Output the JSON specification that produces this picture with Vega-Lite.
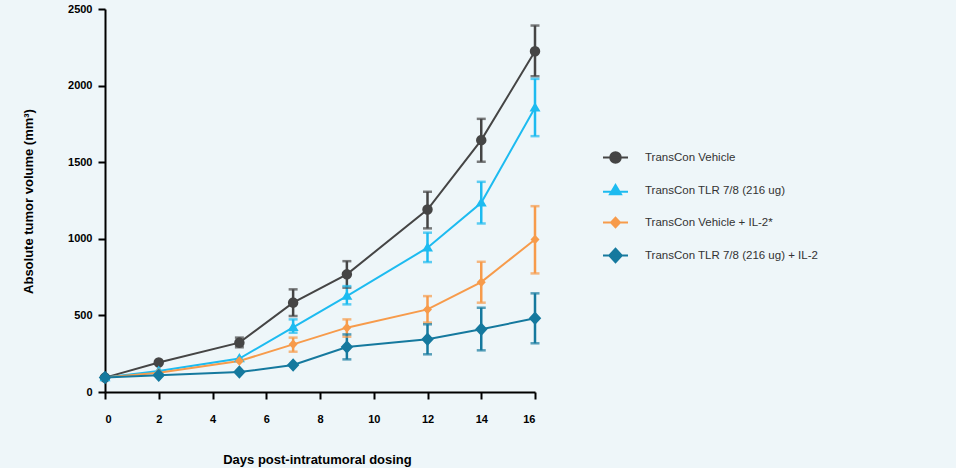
{
  "$schema": "https://vega.github.io/schema/vega-lite/v6.json",
  "width": 430,
  "height": 383,
  "autosize": {"type": "none"},
  "padding": {"left": 105, "top": 9, "right": 421, "bottom": 76},
  "background": "#eef6f9",
  "config": {
    "view": {"stroke": null},
    "axis": {
      "domainColor": "#000000",
      "domainWidth": 2,
      "tickColor": "#000000",
      "tickWidth": 2,
      "tickSize": 7,
      "grid": false,
      "labelFont": "Liberation Sans",
      "labelFontWeight": "bold",
      "labelFontSize": 11,
      "labelColor": "#000000",
      "titleFont": "Liberation Sans",
      "titleFontWeight": "bold",
      "titleFontSize": 13,
      "titleColor": "#000000"
    }
  },
  "data": {
    "values": [
      {"day": 0, "group": "TransCon Vehicle", "value": 94},
      {"day": 2, "group": "TransCon Vehicle", "value": 192},
      {"day": 5, "group": "TransCon Vehicle", "value": 322, "lo": 292, "hi": 355},
      {"day": 7, "group": "TransCon Vehicle", "value": 583, "lo": 496, "hi": 670},
      {"day": 9, "group": "TransCon Vehicle", "value": 768, "lo": 681, "hi": 854},
      {"day": 12, "group": "TransCon Vehicle", "value": 1191, "lo": 1068, "hi": 1307},
      {"day": 14, "group": "TransCon Vehicle", "value": 1644, "lo": 1503, "hi": 1783},
      {"day": 16, "group": "TransCon Vehicle", "value": 2224, "lo": 2061, "hi": 2392},
      {"day": 0, "group": "TransCon TLR 7/8 (216 ug)", "value": 94},
      {"day": 2, "group": "TransCon TLR 7/8 (216 ug)", "value": 137},
      {"day": 5, "group": "TransCon TLR 7/8 (216 ug)", "value": 218},
      {"day": 7, "group": "TransCon TLR 7/8 (216 ug)", "value": 422, "lo": 387, "hi": 474},
      {"day": 9, "group": "TransCon TLR 7/8 (216 ug)", "value": 626, "lo": 572, "hi": 691},
      {"day": 12, "group": "TransCon TLR 7/8 (216 ug)", "value": 942, "lo": 848, "hi": 1040},
      {"day": 14, "group": "TransCon TLR 7/8 (216 ug)", "value": 1235, "lo": 1100, "hi": 1372},
      {"day": 16, "group": "TransCon TLR 7/8 (216 ug)", "value": 1855, "lo": 1670, "hi": 2044},
      {"day": 0, "group": "TransCon Vehicle + IL-2*", "value": 94},
      {"day": 2, "group": "TransCon Vehicle + IL-2*", "value": 126},
      {"day": 5, "group": "TransCon Vehicle + IL-2*", "value": 202},
      {"day": 7, "group": "TransCon Vehicle + IL-2*", "value": 311, "lo": 263, "hi": 355},
      {"day": 9, "group": "TransCon Vehicle + IL-2*", "value": 420, "lo": 361, "hi": 474},
      {"day": 12, "group": "TransCon Vehicle + IL-2*", "value": 539, "lo": 453, "hi": 626},
      {"day": 14, "group": "TransCon Vehicle + IL-2*", "value": 717, "lo": 583, "hi": 850},
      {"day": 16, "group": "TransCon Vehicle + IL-2*", "value": 996, "lo": 774, "hi": 1213},
      {"day": 0, "group": "TransCon TLR 7/8 (216 ug) + IL-2", "value": 94},
      {"day": 2, "group": "TransCon TLR 7/8 (216 ug) + IL-2", "value": 109},
      {"day": 5, "group": "TransCon TLR 7/8 (216 ug) + IL-2", "value": 130},
      {"day": 7, "group": "TransCon TLR 7/8 (216 ug) + IL-2", "value": 176},
      {"day": 9, "group": "TransCon TLR 7/8 (216 ug) + IL-2", "value": 294, "lo": 213, "hi": 376},
      {"day": 12, "group": "TransCon TLR 7/8 (216 ug) + IL-2", "value": 344, "lo": 246, "hi": 442},
      {"day": 14, "group": "TransCon TLR 7/8 (216 ug) + IL-2", "value": 409, "lo": 272, "hi": 550},
      {"day": 16, "group": "TransCon TLR 7/8 (216 ug) + IL-2", "value": 481, "lo": 318, "hi": 644}
    ]
  },
  "encoding": {
    "x": {
      "field": "day",
      "type": "quantitative",
      "scale": {"domain": [0, 16], "nice": false, "zero": false},
      "axis": {
        "values": [0, 2, 4, 6, 8, 10, 12, 14, 16],
        "title": "Days post-intratumoral dosing",
        "labelPadding": 14,
        "titleX": 212,
        "titleY": 67,
        "titleBaseline": "middle",
        "titleAlign": "center"
      }
    },
    "color": {
      "field": "group",
      "type": "nominal",
      "sort": ["TransCon Vehicle", "TransCon TLR 7/8 (216 ug)", "TransCon Vehicle + IL-2*", "TransCon TLR 7/8 (216 ug) + IL-2"],
      "scale": {
        "domain": ["TransCon Vehicle", "TransCon TLR 7/8 (216 ug)", "TransCon Vehicle + IL-2*", "TransCon TLR 7/8 (216 ug) + IL-2"],
        "range": ["#454545", "#1dbbf0", "#f79b4b", "#15799e"]
      },
      "legend": {
        "title": null,
        "orient": "none",
        "legendX": 497,
        "legendY": 135,
        "padding": 0,
        "symbolSize": 625,
        "symbolStrokeWidth": 2,
        "rowPadding": 10,
        "labelOffset": 16,
        "labelLimit": 400,
        "labelFont": "Liberation Sans",
        "labelFontSize": 11.5,
        "labelColor": "#333333",
        "encode": {
          "symbols": {
            "update": {
              "stroke": {"value": {"expr": "datum.value === 'TransCon Vehicle' ? '#454545' : datum.value === 'TransCon TLR 7/8 (216 ug)' ? '#1dbbf0' : datum.value === 'TransCon Vehicle + IL-2*' ? '#f79b4b' : '#15799e'"}},
              "strokeWidth": {"value": 2},
              "opacity": {"value": 1}
            }
          }
        }
      }
    }
  },
  "layer": [
    {
      "mark": {"type": "line", "strokeWidth": 2},
      "encoding": {
        "y": {
          "field": "value",
          "type": "quantitative",
          "scale": {"domain": [0, 2500], "nice": false},
          "axis": {
            "values": [0, 500, 1000, 1500, 2000, 2500],
            "format": "d",
            "title": "Absolute tumor volume (mm³)",
            "labelPadding": 6,
            "titleX": -77,
            "titleY": 192,
            "titleAngle": 270,
            "titleBaseline": "middle",
            "titleAlign": "center"
          }
        },
        "detail": {"field": "group"}
      }
    },
    {
      "transform": [{"filter": "isValid(datum.lo)"}],
      "mark": {"type": "rule", "strokeWidth": 2.5},
      "encoding": {
        "y": {"field": "lo", "type": "quantitative"},
        "y2": {"field": "hi"}
      }
    },
    {
      "transform": [{"filter": "isValid(datum.lo)"}],
      "mark": {"type": "tick", "orient": "horizontal", "size": 9, "thickness": 2.5},
      "encoding": {
        "y": {"field": "lo", "type": "quantitative"}
      }
    },
    {
      "transform": [{"filter": "isValid(datum.hi)"}],
      "mark": {"type": "tick", "orient": "horizontal", "size": 9, "thickness": 2.5},
      "encoding": {
        "y": {"field": "hi", "type": "quantitative"}
      }
    },
    {
      "mark": {"type": "point", "filled": true, "opacity": 1, "size": 625, "strokeWidth": 0},
      "encoding": {
        "y": {"field": "value", "type": "quantitative"},
        "shape": {
          "field": "group",
          "type": "nominal",
          "scale": {
            "domain": ["TransCon Vehicle", "TransCon TLR 7/8 (216 ug)", "TransCon Vehicle + IL-2*", "TransCon TLR 7/8 (216 ug) + IL-2"],
            "range": [
              "M-1,0H1M0.42,0L0.388,0.161L0.297,0.297L0.161,0.388L0,0.42L-0.161,0.388L-0.297,0.297L-0.388,0.161L-0.42,0L-0.388,-0.161L-0.297,-0.297L-0.161,-0.388L0,-0.42L0.161,-0.388L0.297,-0.297L0.388,-0.161Z",
              "M-1,0.1H1M0,-0.44L0.44,0.3L-0.44,0.3Z",
              "M-1,0H1M0,-0.38L0.36,0L0,0.38L-0.36,0Z",
              "M-1,0H1M0,-0.54L0.5,0L0,0.54L-0.5,0Z"
            ]
          },
          "legend": null
        }
      }
    }
  ]
}
